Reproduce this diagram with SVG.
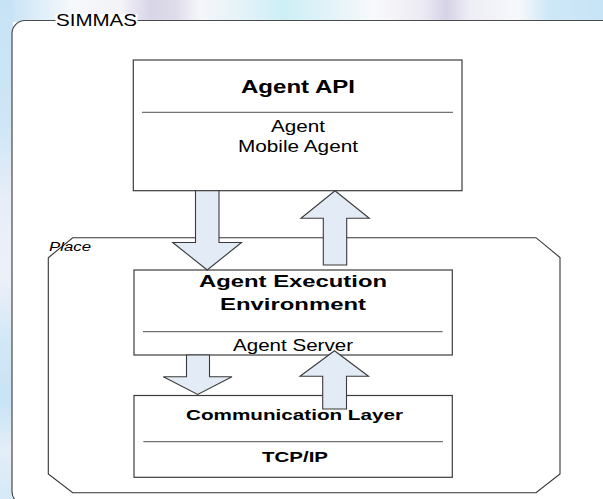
<svg xmlns="http://www.w3.org/2000/svg" width="603" height="499" viewBox="0 0 603 499">
  <defs>
    <linearGradient id="bgTop" x1="0" y1="0" x2="1" y2="0">
      <stop offset="0" stop-color="#c3e0f3"/>
      <stop offset="0.06" stop-color="#dcedf8"/>
      <stop offset="0.12" stop-color="#f6f8fb"/>
      <stop offset="0.2" stop-color="#f3f3f8"/>
      <stop offset="0.25" stop-color="#d8d5e8"/>
      <stop offset="0.29" stop-color="#dedbea"/>
      <stop offset="0.33" stop-color="#f5f6fa"/>
      <stop offset="0.4" stop-color="#e4f3f8"/>
      <stop offset="0.47" stop-color="#cdeff6"/>
      <stop offset="0.56" stop-color="#e6f4f9"/>
      <stop offset="0.62" stop-color="#f8f9fc"/>
      <stop offset="0.7" stop-color="#ecebf4"/>
      <stop offset="0.74" stop-color="#d6d3e7"/>
      <stop offset="0.78" stop-color="#eeeef6"/>
      <stop offset="0.86" stop-color="#f6f8fb"/>
      <stop offset="0.91" stop-color="#cfe8f7"/>
      <stop offset="1" stop-color="#c6e4f6"/>
    </linearGradient>
    <linearGradient id="bgLeft" x1="0" y1="0" x2="0" y2="1">
      <stop offset="0" stop-color="#c6e3f5"/>
      <stop offset="0.25" stop-color="#cfe6f6"/>
      <stop offset="0.4" stop-color="#e7eef8"/>
      <stop offset="0.55" stop-color="#eef0f8"/>
      <stop offset="0.68" stop-color="#d3e8f6"/>
      <stop offset="0.8" stop-color="#c8e3f5"/>
      <stop offset="0.9" stop-color="#e3eef8"/>
      <stop offset="1" stop-color="#d6e9f6"/>
    </linearGradient>
    <style>
      .lbl { font-family: "Liberation Sans", Arial, sans-serif; fill: #000; }
      .b { font-weight: bold; }
      .box { fill: #fff; stroke: #3c3c3c; stroke-width: 1.2; }
      .sep { stroke: #3c3c3c; stroke-width: 0.9; }
      .arrow { fill: #e3ebf6; stroke: #3a3a3a; stroke-width: 1.1; stroke-linejoin: miter; }
    </style>
  </defs>

  <!-- backdrop -->
  <rect x="0" y="0" width="603" height="499" fill="#ffffff"/>
  <rect x="0" y="0" width="603" height="22" fill="url(#bgTop)"/>
  <rect x="0" y="0" width="13" height="499" fill="url(#bgLeft)"/>

  <!-- outer SIMMAS frame -->
  <g id="simmas">
    <rect x="12" y="20.5" width="620" height="484" rx="13" ry="13" fill="#ffffff" stroke="#4a4a4a" stroke-width="1.2"/>
    <rect x="55.5" y="14" width="82" height="13" fill="#ffffff"/>
    <text class="lbl" x="56" y="26" font-size="16.5" textLength="81" lengthAdjust="spacingAndGlyphs">SIMMAS</text>
  </g>

  <!-- Place container -->
  <g id="place">
    <polygon points="72.7,237.7 536,237.7 560,257.5 560,474 536,492.7 72.7,492.7 48.3,474 48.3,257.7" fill="none" stroke="#333" stroke-width="1.1"/>
    <text class="lbl" x="49" y="250.7" font-size="12.6" font-style="italic" textLength="42" lengthAdjust="spacingAndGlyphs">Place</text>
  </g>

  <!-- Agent API -->
  <g id="agent-api">
    <rect class="box" x="133.3" y="60" width="328.7" height="130.7"/>
    <text class="lbl b" x="241" y="93" font-size="18" textLength="114" lengthAdjust="spacingAndGlyphs">Agent API</text>
    <line class="sep" x1="142" y1="112.3" x2="453" y2="112.3"/>
    <text class="lbl" x="271" y="132" font-size="16.5" textLength="54" lengthAdjust="spacingAndGlyphs">Agent</text>
    <text class="lbl" x="238" y="152" font-size="16.5" textLength="120" lengthAdjust="spacingAndGlyphs">Mobile Agent</text>
  </g>

  <!-- Agent Execution Environment -->
  <g id="agent-execution-environment">
    <rect class="box" x="134" y="270" width="318.3" height="85"/>
    <text class="lbl b" x="199" y="286.7" font-size="17.3" textLength="188" lengthAdjust="spacingAndGlyphs">Agent Execution</text>
    <text class="lbl b" x="220" y="310" font-size="17.3" textLength="146" lengthAdjust="spacingAndGlyphs">Environment</text>
    <line class="sep" x1="143" y1="331.7" x2="442.7" y2="331.7"/>
    <text class="lbl" x="233" y="351" font-size="16.5" textLength="120" lengthAdjust="spacingAndGlyphs">Agent Server</text>
  </g>

  <!-- Communication Layer -->
  <g id="communication-layer">
    <rect class="box" x="134" y="395.5" width="318.3" height="81.8"/>
    <text class="lbl b" x="186" y="420" font-size="15" textLength="217" lengthAdjust="spacingAndGlyphs">Communication Layer</text>
    <line class="sep" x1="143.3" y1="441.7" x2="443" y2="441.7"/>
    <text class="lbl b" x="262" y="461.7" font-size="15" textLength="66" lengthAdjust="spacingAndGlyphs">TCP/IP</text>
  </g>

  <!-- block arrows between layers -->
  <g id="connectors">
    <polygon class="arrow" points="195.5,190.7 219,190.7 219,242.5 241.5,242.5 207.2,270 172.7,242.5 195.5,242.5"/>
    <polygon class="arrow" points="335,190.7 369.3,218.3 346.7,218.3 346.7,265 323.3,265 323.3,218.3 301,218.3"/>
    <polygon class="arrow" points="186.5,355 209.5,355 209.5,376.7 232,376.7 197.7,394.5 163.3,376.7 186.5,376.7"/>
    <polygon class="arrow" points="334.5,350.7 368.5,376.3 346.5,376.3 346.5,409 322.7,409 322.7,376.3 300,376.3"/>
  </g>
</svg>
